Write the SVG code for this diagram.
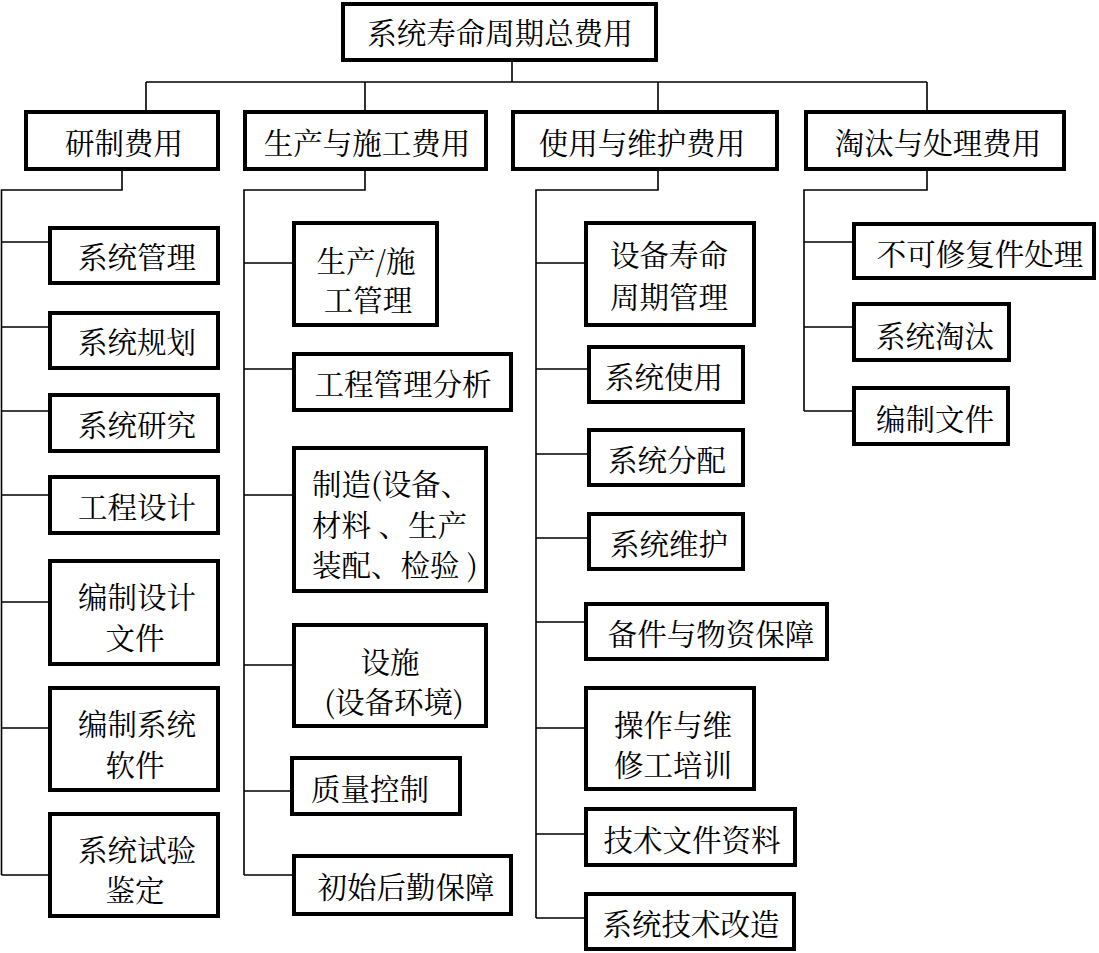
<svg xmlns="http://www.w3.org/2000/svg" width="1099" height="953" viewBox="0 0 1099 953">
<style>
.box{fill:#fff;stroke:#000;stroke-width:4}
.t{font-family:"Noto Serif CJK SC","Noto Sans CJK SC","Noto Sans",sans-serif;font-size:29.5px;fill:#000;text-anchor:middle;dominant-baseline:central}
.s{text-anchor:start}
.ln{fill:none;stroke:#000;stroke-width:1.6}
</style>
<rect width="1099" height="953" fill="#fff"/>
<g id="connectors" class="ln">
<path d="M512,62V82M146,82H927M146,82V110M365,82V110M658,82V110M927,82V110"/>
<path d="M122,171V190H1.5V875M1.5,242H48M1.5,327H48M1.5,411H48M1.5,495H48M1.5,602H48M1.5,728H48M1.5,875H48"/>
<path d="M365,171V190H244V875M244,263H292M244,369H292M244,495H292M244,665H292M244,791H290M244,875H292"/>
<path d="M658,171V190H536V918M536,263H584M536,369H587M536,454H587M536,538H587M536,622H584M536,728H584M536,834H584M536,918H584"/>
<path d="M927,171V190H804V411M804,242H852M804,327H852M804,411H852"/>
</g>
<g id="root"><rect class="box" x="343" y="4" width="313" height="56"/><text class="t" x="500" y="31">系统寿命周期总费用</text></g>
<g id="n-yanzhi"><rect class="box" x="26" y="112" width="192" height="57"/><text class="t" x="124" y="141">研制费用</text></g>
<g id="n-shengchan"><rect class="box" x="245" y="112" width="241" height="57"/><text class="t" x="367" y="141">生产与施工费用</text></g>
<g id="n-shiyong"><rect class="box" x="513" y="112" width="264" height="57"/><text class="t" x="642" y="141">使用与维护费用</text></g>
<g id="n-taotai"><rect class="box" x="806" y="112" width="258" height="57"/><text class="t" x="938" y="141">淘汰与处理费用</text></g>

<g id="c1-1"><rect class="box" x="50" y="228" width="168" height="55"/><text class="t" x="137" y="255">系统管理</text></g>
<g id="c1-2"><rect class="box" x="50" y="313" width="168" height="55"/><text class="t" x="137" y="340">系统规划</text></g>
<g id="c1-3"><rect class="box" x="50" y="395" width="168" height="56"/><text class="t" x="137" y="423">系统研究</text></g>
<g id="c1-4"><rect class="box" x="50" y="477" width="168" height="56"/><text class="t" x="137" y="505">工程设计</text></g>
<g id="c1-5"><rect class="box" x="50" y="561" width="168" height="103"/><text class="t" x="137" y="595">编制设计</text><text class="t" x="135" y="636">文件</text></g>
<g id="c1-6"><rect class="box" x="50" y="688" width="168" height="102"/><text class="t" x="137" y="722">编制系统</text><text class="t" x="135" y="763">软件</text></g>
<g id="c1-7"><rect class="box" x="50" y="814" width="168" height="102"/><text class="t" x="137" y="848">系统试验</text><text class="t" x="135" y="888">鉴定</text></g>

<g id="c2-1"><rect class="box" x="294" y="223" width="143" height="102"/><text class="t" x="366" y="259">生产/施</text><text class="t" x="368" y="298">工管理</text></g>
<g id="c2-2"><rect class="box" x="294" y="354" width="217" height="56"/><text class="t" x="403" y="382">工程管理分析</text></g>
<g id="c2-3"><rect class="box" x="294" y="448" width="192" height="143"/><text class="t s" x="312" y="482">制造(设备、</text><text class="t s" x="312" y="523">材料 、生产</text><text class="t s" x="312" y="563">装配、检验 )</text></g>
<g id="c2-4"><rect class="box" x="294" y="625" width="192" height="101"/><text class="t" x="390" y="660">设施</text><text class="t" x="394" y="700">(设备环境)</text></g>
<g id="c2-5"><rect class="box" x="292" y="758" width="168" height="56"/><text class="t" x="370" y="787">质量控制</text></g>
<g id="c2-6"><rect class="box" x="294" y="856" width="217" height="58"/><text class="t" x="406" y="885">初始后勤保障</text></g>

<g id="c3-1"><rect class="box" x="586" y="223" width="168" height="102"/><text class="t" x="669" y="253">设备寿命</text><text class="t" x="669" y="295">周期管理</text></g>
<g id="c3-2"><rect class="box" x="589" y="347" width="154" height="55"/><text class="t" x="664" y="375">系统使用</text></g>
<g id="c3-3"><rect class="box" x="589" y="430" width="154" height="55"/><text class="t" x="667" y="458">系统分配</text></g>
<g id="c3-4"><rect class="box" x="589" y="514" width="154" height="55"/><text class="t" x="669" y="542">系统维护</text></g>
<g id="c3-5"><rect class="box" x="586" y="604" width="241" height="55"/><text class="t" x="711" y="632">备件与物资保障</text></g>
<g id="c3-6"><rect class="box" x="586" y="688" width="168" height="101"/><text class="t" x="673" y="723">操作与维</text><text class="t" x="673" y="763">修工培训</text></g>
<g id="c3-7"><rect class="box" x="586" y="809" width="209" height="56"/><text class="t" x="692" y="838">技术文件资料</text></g>
<g id="c3-8"><rect class="box" x="586" y="894" width="208" height="55"/><text class="t" x="691" y="922">系统技术改造</text></g>

<g id="c4-1"><rect class="box" x="854" y="224" width="240" height="54"/><text class="t" x="980" y="252">不可修复件处理</text></g>
<g id="c4-2"><rect class="box" x="854" y="304" width="155" height="56"/><text class="t" x="935" y="334">系统淘汰</text></g>
<g id="c4-3"><rect class="box" x="854" y="388" width="154" height="56"/><text class="t" x="935" y="417">编制文件</text></g>
</svg>
